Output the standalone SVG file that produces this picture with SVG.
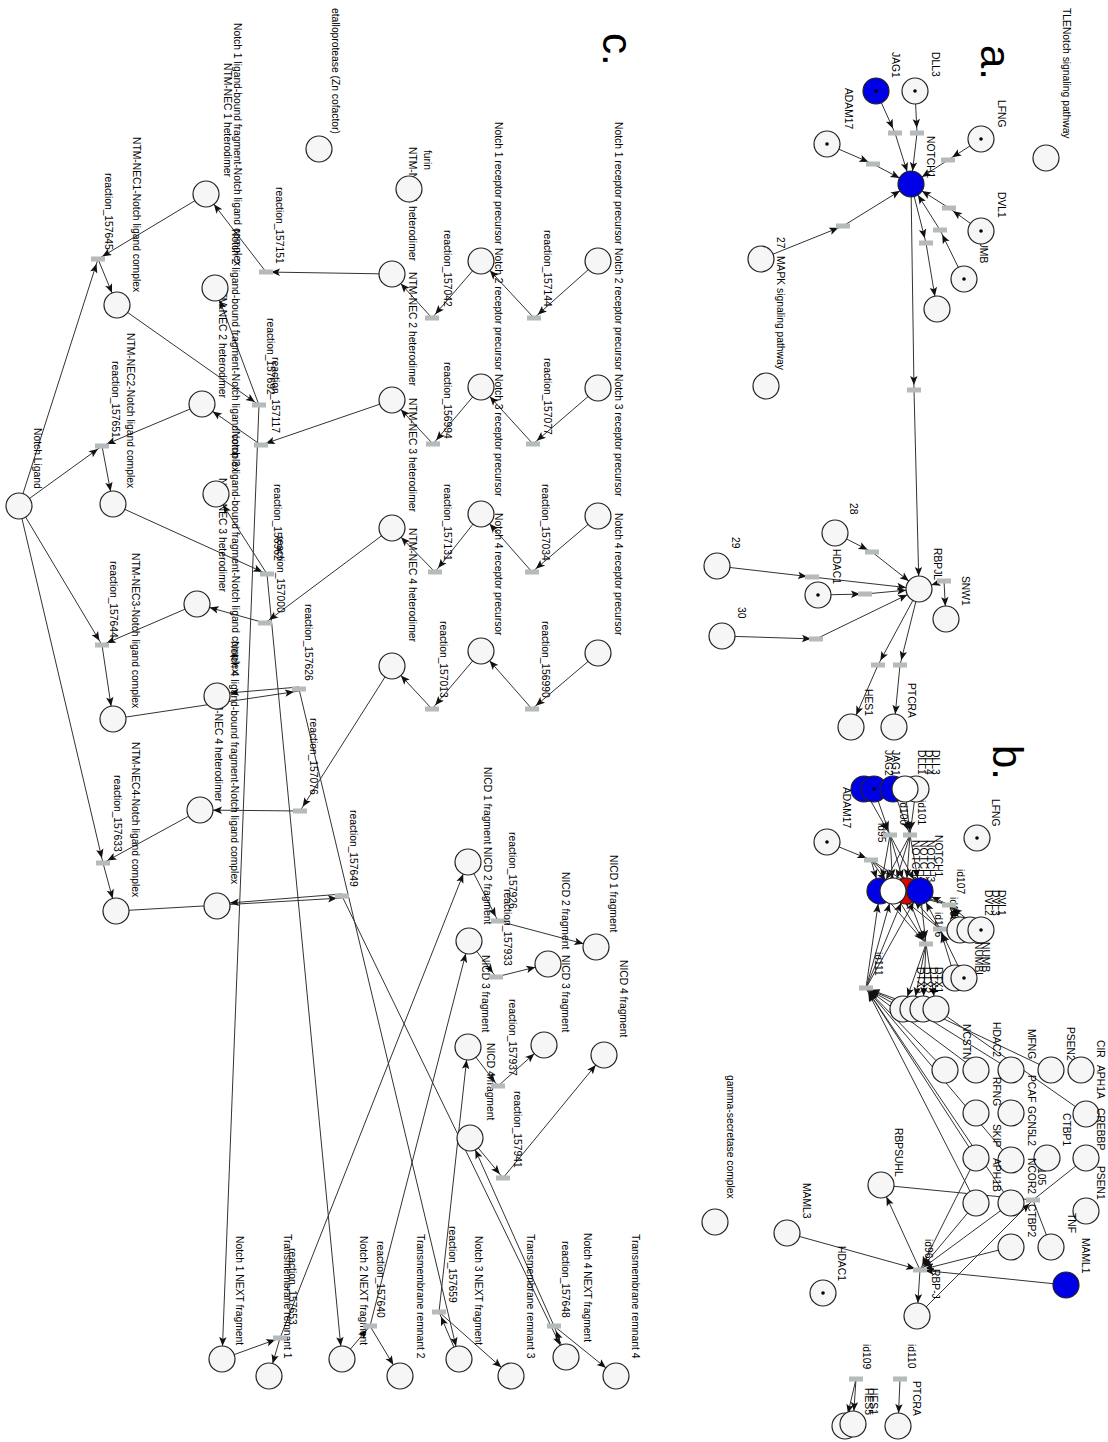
<svg xmlns="http://www.w3.org/2000/svg" width="1108" height="1442" viewBox="0 0 1108 1442">
<style>
.t{font-family:"Liberation Sans",Arial,sans-serif;font-size:10.3px;fill:#000}
.big{font-family:"Liberation Sans",Arial,sans-serif;font-size:42px;fill:#000}
.n{fill:#f6f6f6;stroke:#222;stroke-width:1.2}
.b{fill:#0000e6}
.r{fill:#e60000}
.w{fill:#fff}
.d{fill:#000}
.rx{fill:#b5baba}
#edges line{stroke:#333;stroke-width:1;fill:none}
</style>
<defs>
<marker id="ac" markerUnits="userSpaceOnUse" viewBox="0 0 30 10" markerWidth="30" markerHeight="10" refX="27" refY="5" orient="auto"><path d="M14,5 L5,1.3 L7,5 L5,8.7 z" fill="#111"/></marker>
<marker id="ar" markerUnits="userSpaceOnUse" viewBox="0 0 30 10" markerWidth="30" markerHeight="10" refX="19" refY="5" orient="auto"><path d="M14,5 L5,1.3 L7,5 L5,8.7 z" fill="#111"/></marker>
</defs>
<rect width="1108" height="1442" fill="#fff"/>
<g id="edges">
<!-- panel a -->
<line x1="876" y1="91" x2="895" y2="133" marker-end="url(#ar)"/>
<line x1="895" y1="133" x2="911" y2="184" marker-end="url(#ac)"/>
<line x1="915" y1="91" x2="917" y2="133" marker-end="url(#ar)"/>
<line x1="917" y1="133" x2="911" y2="184" marker-end="url(#ac)"/>
<line x1="981" y1="139" x2="948" y2="160" marker-end="url(#ar)"/>
<line x1="948" y1="160" x2="911" y2="184" marker-end="url(#ac)"/>
<line x1="827" y1="144" x2="873" y2="164" marker-end="url(#ar)"/>
<line x1="873" y1="164" x2="911" y2="184" marker-end="url(#ac)"/>
<line x1="981" y1="231" x2="949" y2="208" marker-end="url(#ar)"/>
<line x1="949" y1="208" x2="911" y2="184" marker-end="url(#ac)"/>
<line x1="964" y1="279" x2="940" y2="230" marker-end="url(#ar)"/>
<line x1="940" y1="230" x2="911" y2="184" marker-end="url(#ac)"/>
<line x1="911" y1="184" x2="926" y2="243" marker-end="url(#ar)"/>
<line x1="926" y1="243" x2="937" y2="309" marker-end="url(#ac)"/>
<line x1="761" y1="259" x2="843" y2="226" marker-end="url(#ar)"/>
<line x1="843" y1="226" x2="911" y2="184" marker-end="url(#ac)"/>
<line x1="911" y1="184" x2="914" y2="390" marker-end="url(#ar)"/>
<line x1="914" y1="390" x2="919" y2="589" marker-end="url(#ac)"/>
<line x1="835" y1="533" x2="872" y2="552" marker-end="url(#ar)"/>
<line x1="872" y1="552" x2="919" y2="589" marker-end="url(#ac)"/>
<line x1="717" y1="566" x2="812" y2="577" marker-end="url(#ar)"/>
<line x1="812" y1="577" x2="919" y2="589" marker-end="url(#ac)"/>
<line x1="818" y1="595" x2="865" y2="594" marker-end="url(#ar)"/>
<line x1="865" y1="594" x2="919" y2="589" marker-end="url(#ac)"/>
<line x1="722" y1="636" x2="816" y2="639" marker-end="url(#ar)"/>
<line x1="816" y1="639" x2="919" y2="589" marker-end="url(#ac)"/>
<line x1="944" y1="581" x2="919" y2="589" marker-end="url(#ac)"/>
<line x1="944" y1="581" x2="946" y2="619" marker-end="url(#ac)"/>
<line x1="919" y1="589" x2="878" y2="665" marker-end="url(#ar)"/>
<line x1="878" y1="665" x2="851" y2="727" marker-end="url(#ac)"/>
<line x1="919" y1="589" x2="900" y2="665" marker-end="url(#ar)"/>
<line x1="900" y1="665" x2="894" y2="727" marker-end="url(#ac)"/>
<!-- panel c precursors -->
<line x1="598" y1="261" x2="534" y2="318" marker-end="url(#ar)"/>
<line x1="534" y1="318" x2="481" y2="261" marker-end="url(#ac)"/>
<line x1="481" y1="261" x2="432" y2="318" marker-end="url(#ar)"/>
<line x1="432" y1="318" x2="392" y2="274" marker-end="url(#ac)"/>
<line x1="598" y1="388" x2="533" y2="444" marker-end="url(#ar)"/>
<line x1="533" y1="444" x2="481" y2="387" marker-end="url(#ac)"/>
<line x1="481" y1="387" x2="433" y2="444" marker-end="url(#ar)"/>
<line x1="433" y1="444" x2="392" y2="400" marker-end="url(#ac)"/>
<line x1="598" y1="516" x2="532" y2="572" marker-end="url(#ar)"/>
<line x1="532" y1="572" x2="481" y2="514" marker-end="url(#ac)"/>
<line x1="481" y1="514" x2="435" y2="572" marker-end="url(#ar)"/>
<line x1="435" y1="572" x2="392" y2="528" marker-end="url(#ac)"/>
<line x1="598" y1="653" x2="532" y2="709" marker-end="url(#ar)"/>
<line x1="532" y1="709" x2="481" y2="651" marker-end="url(#ac)"/>
<line x1="481" y1="651" x2="432" y2="709" marker-end="url(#ar)"/>
<line x1="432" y1="709" x2="392" y2="666" marker-end="url(#ac)"/>
<!-- panel c left -->
<line x1="392" y1="274" x2="266" y2="272" marker-end="url(#ar)"/>
<line x1="266" y1="272" x2="206" y2="194" marker-end="url(#ac)"/>
<line x1="206" y1="194" x2="98" y2="259" marker-end="url(#ar)"/>
<line x1="19" y1="506" x2="98" y2="259" marker-end="url(#ar)"/>
<line x1="98" y1="259" x2="117" y2="305" marker-end="url(#ac)"/>
<line x1="117" y1="305" x2="259" y2="405" marker-end="url(#ar)"/>
<line x1="259" y1="405" x2="215" y2="288" marker-end="url(#ac)"/>
<line x1="259" y1="405" x2="222" y2="1359" marker-end="url(#ac)"/>
<line x1="392" y1="400" x2="261" y2="445" marker-end="url(#ar)"/>
<line x1="261" y1="445" x2="202" y2="404" marker-end="url(#ac)"/>
<line x1="202" y1="404" x2="102" y2="446" marker-end="url(#ar)"/>
<line x1="19" y1="506" x2="102" y2="446" marker-end="url(#ar)"/>
<line x1="102" y1="446" x2="113" y2="504" marker-end="url(#ac)"/>
<line x1="113" y1="504" x2="267" y2="574" marker-end="url(#ar)"/>
<line x1="267" y1="574" x2="216" y2="494" marker-end="url(#ac)"/>
<line x1="267" y1="574" x2="342" y2="1359" marker-end="url(#ac)"/>
<line x1="392" y1="528" x2="265" y2="623" marker-end="url(#ar)"/>
<line x1="265" y1="623" x2="197" y2="604" marker-end="url(#ac)"/>
<line x1="197" y1="604" x2="102" y2="645" marker-end="url(#ar)"/>
<line x1="19" y1="506" x2="102" y2="645" marker-end="url(#ar)"/>
<line x1="102" y1="645" x2="113" y2="719" marker-end="url(#ac)"/>
<line x1="113" y1="719" x2="299" y2="691" marker-end="url(#ar)"/>
<line x1="299" y1="687" x2="217" y2="694" marker-end="url(#ac)"/>
<line x1="299" y1="689" x2="459" y2="1359" marker-end="url(#ac)"/>
<line x1="392" y1="666" x2="300" y2="811" marker-end="url(#ar)"/>
<line x1="300" y1="811" x2="200" y2="810" marker-end="url(#ac)"/>
<line x1="200" y1="810" x2="103" y2="863" marker-end="url(#ar)"/>
<line x1="19" y1="506" x2="103" y2="863" marker-end="url(#ar)"/>
<line x1="103" y1="863" x2="116" y2="911" marker-end="url(#ac)"/>
<line x1="116" y1="911" x2="342" y2="898" marker-end="url(#ar)"/>
<line x1="342" y1="894" x2="217" y2="904" marker-end="url(#ac)"/>
<line x1="342" y1="896" x2="566" y2="1357" marker-end="url(#ac)"/>
<!-- panel c bottom -->
<line x1="222" y1="1359" x2="280" y2="1338" marker-end="url(#ar)"/>
<line x1="280" y1="1338" x2="269" y2="1376" marker-end="url(#ac)"/>
<line x1="280" y1="1338" x2="468" y2="862" marker-end="url(#ac)"/>
<line x1="342" y1="1359" x2="370" y2="1326" marker-end="url(#ar)"/>
<line x1="370" y1="1326" x2="400" y2="1376" marker-end="url(#ac)"/>
<line x1="370" y1="1326" x2="469" y2="941" marker-end="url(#ac)"/>
<line x1="459" y1="1359" x2="439" y2="1312" marker-end="url(#ar)"/>
<line x1="439" y1="1312" x2="511" y2="1376" marker-end="url(#ac)"/>
<line x1="439" y1="1312" x2="468" y2="1047" marker-end="url(#ac)"/>
<line x1="566" y1="1357" x2="554" y2="1326" marker-end="url(#ar)"/>
<line x1="554" y1="1326" x2="616" y2="1376" marker-end="url(#ac)"/>
<line x1="554" y1="1326" x2="470" y2="1138" marker-end="url(#ac)"/>
<line x1="468" y1="862" x2="498" y2="921" marker-end="url(#ar)"/>
<line x1="498" y1="921" x2="596" y2="947" marker-end="url(#ac)"/>
<line x1="469" y1="941" x2="496" y2="977" marker-end="url(#ar)"/>
<line x1="496" y1="977" x2="548" y2="964" marker-end="url(#ac)"/>
<line x1="468" y1="1047" x2="498" y2="1086" marker-end="url(#ar)"/>
<line x1="498" y1="1086" x2="544" y2="1045" marker-end="url(#ac)"/>
<line x1="470" y1="1138" x2="503" y2="1178" marker-end="url(#ar)"/>
<line x1="503" y1="1178" x2="604" y2="1055" marker-end="url(#ac)"/>
<!-- panel b -->
<line x1="864" y1="789" x2="890" y2="835" marker-end="url(#ar)"/>
<line x1="874" y1="789" x2="890" y2="835" marker-end="url(#ar)"/>
<line x1="893" y1="789" x2="910" y2="835" marker-end="url(#ar)"/>
<line x1="905" y1="789" x2="910" y2="835" marker-end="url(#ar)"/>
<line x1="916" y1="789" x2="910" y2="835" marker-end="url(#ar)"/>
<line x1="890" y1="835" x2="880" y2="891" marker-end="url(#ac)"/>
<line x1="890" y1="835" x2="893" y2="891" marker-end="url(#ac)"/>
<line x1="890" y1="835" x2="906" y2="891" marker-end="url(#ac)"/>
<line x1="890" y1="835" x2="920" y2="891" marker-end="url(#ac)"/>
<line x1="910" y1="835" x2="880" y2="891" marker-end="url(#ac)"/>
<line x1="910" y1="835" x2="893" y2="891" marker-end="url(#ac)"/>
<line x1="910" y1="835" x2="906" y2="891" marker-end="url(#ac)"/>
<line x1="910" y1="835" x2="920" y2="891" marker-end="url(#ac)"/>
<line x1="827" y1="842" x2="871" y2="860" marker-end="url(#ar)"/>
<line x1="871" y1="860" x2="880" y2="891" marker-end="url(#ac)"/>
<line x1="871" y1="860" x2="893" y2="891" marker-end="url(#ac)"/>
<line x1="871" y1="860" x2="906" y2="891" marker-end="url(#ac)"/>
<line x1="871" y1="860" x2="920" y2="891" marker-end="url(#ac)"/>
<line x1="960" y1="930" x2="949" y2="905" marker-end="url(#ar)"/>
<line x1="970" y1="930" x2="949" y2="905" marker-end="url(#ar)"/>
<line x1="981" y1="930" x2="949" y2="905" marker-end="url(#ar)"/>
<line x1="949" y1="905" x2="920" y2="891" marker-end="url(#ac)"/>
<line x1="949" y1="905" x2="906" y2="891" marker-end="url(#ac)"/>
<line x1="949" y1="905" x2="893" y2="891" marker-end="url(#ac)"/>
<line x1="955" y1="978" x2="940" y2="929" marker-end="url(#ar)"/>
<line x1="964" y1="978" x2="940" y2="929" marker-end="url(#ar)"/>
<line x1="940" y1="929" x2="920" y2="891" marker-end="url(#ac)"/>
<line x1="940" y1="929" x2="906" y2="891" marker-end="url(#ac)"/>
<line x1="940" y1="929" x2="893" y2="891" marker-end="url(#ac)"/>
<line x1="880" y1="891" x2="926" y2="944" marker-end="url(#ar)"/>
<line x1="893" y1="891" x2="926" y2="944" marker-end="url(#ar)"/>
<line x1="906" y1="891" x2="926" y2="944" marker-end="url(#ar)"/>
<line x1="920" y1="891" x2="926" y2="944" marker-end="url(#ar)"/>
<line x1="926" y1="944" x2="903" y2="1009" marker-end="url(#ac)"/>
<line x1="926" y1="944" x2="913" y2="1009" marker-end="url(#ac)"/>
<line x1="926" y1="944" x2="923" y2="1009" marker-end="url(#ac)"/>
<line x1="926" y1="944" x2="936" y2="1009" marker-end="url(#ac)"/>
<line x1="866" y1="988" x2="880" y2="891" marker-end="url(#ac)"/>
<line x1="866" y1="988" x2="893" y2="891" marker-end="url(#ac)"/>
<line x1="866" y1="988" x2="906" y2="891" marker-end="url(#ac)"/>
<line x1="866" y1="988" x2="920" y2="891" marker-end="url(#ac)"/>
<line x1="903" y1="1009" x2="866" y2="988" marker-end="url(#ar)"/>
<line x1="913" y1="1009" x2="866" y2="988" marker-end="url(#ar)"/>
<line x1="923" y1="1009" x2="866" y2="988" marker-end="url(#ar)"/>
<line x1="945" y1="1070" x2="866" y2="988" marker-end="url(#ar)"/>
<line x1="976" y1="1158" x2="866" y2="988" marker-end="url(#ar)"/>
<line x1="976" y1="1203" x2="866" y2="988" marker-end="url(#ar)"/>
<line x1="1011" y1="1203" x2="866" y2="988" marker-end="url(#ar)"/>
<line x1="1011" y1="1160" x2="866" y2="988" marker-end="url(#ar)"/>
<line x1="976" y1="1070" x2="866" y2="988" marker-end="url(#ar)"/>
<line x1="936" y1="1009" x2="1086" y2="1114"/>
<line x1="923" y1="1009" x2="1051" y2="1070"/>
<line x1="913" y1="1009" x2="1011" y2="1070"/>
<line x1="787" y1="1233" x2="920" y2="1270" marker-end="url(#ar)"/>
<line x1="1066" y1="1285" x2="920" y2="1270" marker-end="url(#ar)"/>
<line x1="976" y1="1203" x2="920" y2="1270" marker-end="url(#ar)"/>
<line x1="1011" y1="1203" x2="920" y2="1270" marker-end="url(#ar)"/>
<line x1="976" y1="1158" x2="920" y2="1270" marker-end="url(#ar)"/>
<line x1="1011" y1="1247" x2="920" y2="1270" marker-end="url(#ar)"/>
<line x1="920" y1="1270" x2="917" y2="1316" marker-end="url(#ac)"/>
<line x1="920" y1="1270" x2="881" y2="1185" marker-end="url(#ac)"/>
<line x1="881" y1="1185" x2="1033" y2="1200"/>
<line x1="917" y1="1316" x2="1033" y2="1200" marker-end="url(#ar)"/>
<line x1="1086" y1="1158" x2="1033" y2="1200"/>
<line x1="1033" y1="1200" x2="1051" y2="1247"/>
<line x1="900" y1="1379" x2="898" y2="1426" marker-end="url(#ac)"/>
<line x1="856" y1="1379" x2="845" y2="1426" marker-end="url(#ac)"/>
<line x1="856" y1="1379" x2="853" y2="1424" marker-end="url(#ac)"/>
</g>
<g id="titles">
<text class="big" x="981" y="45" transform="rotate(90 981 45)">a.</text>
<text class="big" x="993" y="745" transform="rotate(90 993 745)">b.</text>
<text class="big" x="603" y="33" transform="rotate(90 603 33)">c.</text>
</g>
<!-- panel a nodes -->
<g id="a-tle"><circle class="n" cx="1046" cy="158" r="13"/><text class="t" x="1063" y="8" transform="rotate(90 1063 8)">TLENotch signaling pathway</text></g>
<g id="a-jag1"><circle class="n b" cx="876" cy="91" r="13"/><circle class="d" cx="876" cy="91" r="1.8"/><text class="t" x="892" y="52" transform="rotate(90 892 52)">JAG1</text></g>
<g id="a-dll3"><circle class="n" cx="915" cy="91" r="13"/><circle class="d" cx="915" cy="91" r="1.8"/><text class="t" x="932" y="52" transform="rotate(90 932 52)">DLL3</text></g>
<g id="a-lfng"><circle class="n" cx="981" cy="139" r="13"/><circle class="d" cx="981" cy="139" r="1.8"/><text class="t" x="998" y="100" transform="rotate(90 998 100)">LFNG</text></g>
<g id="a-adam17"><circle class="n" cx="827" cy="144" r="13"/><circle class="d" cx="827" cy="144" r="1.8"/><text class="t" x="845" y="88" transform="rotate(90 845 88)">ADAM17</text></g>
<g id="a-notch1"><circle class="n b" cx="911" cy="184" r="13"/><text class="t" x="927" y="136" transform="rotate(90 927 136)">NOTCH1</text></g>
<g id="a-numb"><circle class="n" cx="964" cy="279" r="13"/><circle class="d" cx="964" cy="279" r="1.8"/><text class="t" x="980" y="233" transform="rotate(90 980 233)">NUMB</text></g>
<g id="a-dvl1"><circle class="n" cx="981" cy="231" r="13"/><circle class="d" cx="981" cy="231" r="1.8"/><text class="t" x="998" y="192" transform="rotate(90 998 192)">DVL1</text></g>
<g id="a-out"><circle class="n" cx="937" cy="309" r="13"/></g>
<g id="a-27"><circle class="n" cx="761" cy="259" r="13"/><text class="t" x="777" y="237" transform="rotate(90 777 237)">27</text></g>
<g id="a-mapk"><circle class="n" cx="766" cy="386" r="13"/><text class="t" x="777" y="256" transform="rotate(90 777 256)">MAPK signaling pathway</text></g>
<g id="a-28"><circle class="n" cx="835" cy="533" r="13"/><text class="t" x="850" y="503" transform="rotate(90 850 503)">28</text></g>
<g id="a-hdac1"><circle class="n" cx="818" cy="595" r="13"/><circle class="d" cx="818" cy="595" r="1.8"/><text class="t" x="833" y="549" transform="rotate(90 833 549)">HDAC1</text></g>
<g id="a-29"><circle class="n" cx="717" cy="566" r="13"/><text class="t" x="732" y="537" transform="rotate(90 732 537)">29</text></g>
<g id="a-30"><circle class="n" cx="722" cy="636" r="13"/><text class="t" x="738" y="607" transform="rotate(90 738 607)">30</text></g>
<g id="a-rbpjl"><circle class="n" cx="919" cy="589" r="13"/><text class="t" x="934" y="548" transform="rotate(90 934 548)">RBPJL</text></g>
<g id="a-snw1"><circle class="n" cx="946" cy="619" r="13"/><text class="t" x="962" y="576" transform="rotate(90 962 576)">SNW1</text></g>
<g id="a-hes1"><circle class="n" cx="851" cy="727" r="13"/><text class="t" x="865" y="689" transform="rotate(90 865 689)">HES1</text></g>
<g id="a-ptcra"><circle class="n" cx="894" cy="727" r="13"/><text class="t" x="908" y="683" transform="rotate(90 908 683)">PTCRA</text></g>
<g id="a-reactions">
<rect class="rx" x="888" y="130.5" width="14" height="5"/><rect class="rx" x="910" y="130.5" width="14" height="5"/><rect class="rx" x="941" y="157.5" width="14" height="5"/><rect class="rx" x="866" y="161.5" width="14" height="5"/><rect class="rx" x="942" y="205.5" width="14" height="5"/><rect class="rx" x="933" y="227.5" width="14" height="5"/><rect class="rx" x="919" y="240.5" width="14" height="5"/><rect class="rx" x="836" y="223.5" width="14" height="5"/><rect class="rx" x="907" y="387.5" width="14" height="5"/><rect class="rx" x="865" y="549.5" width="14" height="5"/><rect class="rx" x="805" y="574.5" width="14" height="5"/><rect class="rx" x="858" y="591.5" width="14" height="5"/><rect class="rx" x="809" y="636.5" width="14" height="5"/><rect class="rx" x="937" y="578.5" width="14" height="5"/><rect class="rx" x="871" y="662.5" width="14" height="5"/><rect class="rx" x="893" y="662.5" width="14" height="5"/>
</g>
<!-- panel c nodes -->
<g id="c-p1a"><circle class="n" cx="598" cy="261" r="13"/><text class="t" x="615" y="122" transform="rotate(90 615 122)">Notch 1 receptor precursor</text></g>
<g id="c-p2a"><circle class="n" cx="598" cy="388" r="13"/><text class="t" x="615" y="248" transform="rotate(90 615 248)">Notch 2 receptor precursor</text></g>
<g id="c-p3a"><circle class="n" cx="598" cy="516" r="13"/><text class="t" x="615" y="374" transform="rotate(90 615 374)">Notch 3 receptor precursor</text></g>
<g id="c-p4a"><circle class="n" cx="598" cy="653" r="13"/><text class="t" x="615" y="513" transform="rotate(90 615 513)">Notch 4 receptor precursor</text></g>
<g id="c-p1b"><circle class="n" cx="481" cy="261" r="13"/><text class="t" x="495" y="122" transform="rotate(90 495 122)">Notch 1 receptor precursor</text></g>
<g id="c-p2b"><circle class="n" cx="481" cy="387" r="13"/><text class="t" x="495" y="248" transform="rotate(90 495 248)">Notch 2 receptor precursor</text></g>
<g id="c-p3b"><circle class="n" cx="481" cy="514" r="13"/><text class="t" x="495" y="374" transform="rotate(90 495 374)">Notch 3 receptor precursor</text></g>
<g id="c-p4b"><circle class="n" cx="481" cy="651" r="13"/><text class="t" x="495" y="513" transform="rotate(90 495 513)">Notch 4 receptor precursor</text></g>
<g id="c-h1"><circle class="n" cx="392" cy="274" r="13"/><text class="t" x="409" y="147" transform="rotate(90 409 147)">NTM-NEC 1 heterodimer</text></g>
<g id="c-h2"><circle class="n" cx="392" cy="400" r="13"/><text class="t" x="409" y="272" transform="rotate(90 409 272)">NTM-NEC 2 heterodimer</text></g>
<g id="c-h3"><circle class="n" cx="392" cy="528" r="13"/><text class="t" x="409" y="398" transform="rotate(90 409 398)">NTM-NEC 3 heterodimer</text></g>
<g id="c-h4"><circle class="n" cx="392" cy="666" r="13"/><text class="t" x="409" y="528" transform="rotate(90 409 528)">NTM-NEC 4 heterodimer</text></g>
<g id="c-furin"><circle class="n" cx="409" cy="189" r="13"/><text class="t" x="424" y="150" transform="rotate(90 424 150)">furin</text></g>
<g id="c-metallo"><circle class="n" cx="319" cy="149" r="13"/><text class="t" x="332" y="8" transform="rotate(90 332 8)">etalloprotease (Zn cofactor)</text></g>
<g id="c-nn1"><circle class="n" cx="206" cy="194" r="13"/><text class="t" x="224" y="63" transform="rotate(90 224 63)">NTM-NEC 1 heterodimer</text></g>
<g id="c-nn2"><circle class="n" cx="202" cy="404" r="13"/><text class="t" x="219" y="284" transform="rotate(90 219 284)">NTM-NEC 2 heterodimer</text></g>
<g id="c-nn3"><circle class="n" cx="197" cy="604" r="13"/><text class="t" x="219" y="478" transform="rotate(90 219 478)">NTM-NEC 3 heterodimer</text></g>
<g id="c-nn4"><circle class="n" cx="200" cy="810" r="13"/><text class="t" x="215" y="688" transform="rotate(90 215 688)">NTM-NEC 4 heterodimer</text></g>
<g id="c-lb1"><circle class="n" cx="215" cy="288" r="13"/><text class="t" x="234" y="23" transform="rotate(90 234 23)">Notch 1 ligand-bound fragment-Notch ligand complex</text></g>
<g id="c-lb2"><circle class="n" cx="216" cy="494" r="13"/><text class="t" x="232" y="229" transform="rotate(90 232 229)">Notch 2 ligand-bound fragment-Notch ligand complex</text></g>
<g id="c-lb3"><circle class="n" cx="217" cy="696" r="13"/><text class="t" x="232" y="431" transform="rotate(90 232 431)">Notch 3 ligand-bound fragment-Notch ligand complex</text></g>
<g id="c-lb4"><circle class="n" cx="217" cy="906" r="13"/><text class="t" x="231" y="641" transform="rotate(90 231 641)">Notch 4 ligand-bound fragment-Notch ligand complex</text></g>
<g id="c-nc1"><circle class="n" cx="117" cy="305" r="13"/><text class="t" x="133" y="137" transform="rotate(90 133 137)">NTM-NEC1-Notch ligand complex</text></g>
<g id="c-nc2"><circle class="n" cx="113" cy="504" r="13"/><text class="t" x="127" y="333" transform="rotate(90 127 333)">NTM-NEC2-Notch ligand complex</text></g>
<g id="c-nc3"><circle class="n" cx="113" cy="719" r="13"/><text class="t" x="132" y="553" transform="rotate(90 132 553)">NTM-NEC3-Notch ligand complex</text></g>
<g id="c-nc4"><circle class="n" cx="116" cy="911" r="13"/><text class="t" x="132" y="742" transform="rotate(90 132 742)">NTM-NEC4-Notch ligand complex</text></g>
<g id="c-ligand"><circle class="n" cx="19" cy="506" r="13"/><text class="t" x="34" y="428" transform="rotate(90 34 428)">Notch Ligand</text></g>
<g id="c-next1"><circle class="n" cx="222" cy="1359" r="13"/><text class="t" x="236" y="1236" transform="rotate(90 236 1236)">Notch 1 NEXT fragment</text></g>
<g id="c-tm1"><circle class="n" cx="269" cy="1376" r="13"/><text class="t" x="284" y="1234" transform="rotate(90 284 1234)">Transmembrane remnant 1</text></g>
<g id="c-next2"><circle class="n" cx="342" cy="1359" r="13"/><text class="t" x="360" y="1236" transform="rotate(90 360 1236)">Notch 2 NEXT fragment</text></g>
<g id="c-tm2"><circle class="n" cx="400" cy="1376" r="13"/><text class="t" x="417" y="1234" transform="rotate(90 417 1234)">Transmembrane remnant 2</text></g>
<g id="c-next3"><circle class="n" cx="459" cy="1359" r="13"/><text class="t" x="475" y="1236" transform="rotate(90 475 1236)">Notch 3 NEXT fragment</text></g>
<g id="c-tm3"><circle class="n" cx="511" cy="1376" r="13"/><text class="t" x="527" y="1234" transform="rotate(90 527 1234)">Transmembrane remnant 3</text></g>
<g id="c-next4"><circle class="n" cx="566" cy="1357" r="13"/><text class="t" x="584" y="1233" transform="rotate(90 584 1233)">Notch 4 NEXT fragment</text></g>
<g id="c-tm4"><circle class="n" cx="616" cy="1376" r="13"/><text class="t" x="632" y="1234" transform="rotate(90 632 1234)">Transmembrane remnant 4</text></g>
<g id="c-gamma"><circle class="n" cx="715" cy="1222" r="13"/><text class="t" x="727" y="1075" transform="rotate(90 727 1075)">gamma-secretase complex</text></g>
<g id="c-nicd1a"><circle class="n" cx="468" cy="862" r="13"/><text class="t" x="484" y="767" transform="rotate(90 484 767)">NICD 1 fragment</text></g>
<g id="c-nicd2a"><circle class="n" cx="469" cy="941" r="13"/><text class="t" x="484" y="847" transform="rotate(90 484 847)">NICD 2 fragment</text></g>
<g id="c-nicd3a"><circle class="n" cx="468" cy="1047" r="13"/><text class="t" x="482" y="955" transform="rotate(90 482 955)">NICD 3 fragment</text></g>
<g id="c-nicd4a"><circle class="n" cx="470" cy="1138" r="13"/><text class="t" x="487" y="1043" transform="rotate(90 487 1043)">NICD 4 fragment</text></g>
<g id="c-nicd1b"><circle class="n" cx="596" cy="947" r="13"/><text class="t" x="610" y="855" transform="rotate(90 610 855)">NICD 1 fragment</text></g>
<g id="c-nicd2b"><circle class="n" cx="548" cy="964" r="13"/><text class="t" x="562" y="872" transform="rotate(90 562 872)">NICD 2 fragment</text></g>
<g id="c-nicd3b"><circle class="n" cx="544" cy="1045" r="13"/><text class="t" x="562" y="955" transform="rotate(90 562 955)">NICD 3 fragment</text></g>
<g id="c-nicd4b"><circle class="n" cx="604" cy="1055" r="13"/><text class="t" x="620" y="960" transform="rotate(90 620 960)">NICD 4 fragment</text></g>
<g id="c-reactions">
<g id="r157144"><rect class="rx" x="527" y="315.5" width="14" height="5"/><text class="t" x="544" y="230" transform="rotate(90 544 230)">reaction_157144</text></g>
<g id="r157042"><rect class="rx" x="425" y="315.5" width="14" height="5"/><text class="t" x="444" y="230" transform="rotate(90 444 230)">reaction_157042</text></g>
<g id="r157077"><rect class="rx" x="526" y="441.5" width="14" height="5"/><text class="t" x="544" y="358" transform="rotate(90 544 358)">reaction_157077</text></g>
<g id="r156994"><rect class="rx" x="426" y="441.5" width="14" height="5"/><text class="t" x="444" y="362" transform="rotate(90 444 362)">reaction_156994</text></g>
<g id="r157034"><rect class="rx" x="525" y="569.5" width="14" height="5"/><text class="t" x="542" y="484" transform="rotate(90 542 484)">reaction_157034</text></g>
<g id="r157131"><rect class="rx" x="428" y="569.5" width="14" height="5"/><text class="t" x="444" y="484" transform="rotate(90 444 484)">reaction_157131</text></g>
<g id="r156990"><rect class="rx" x="525" y="706.5" width="14" height="5"/><text class="t" x="542" y="621" transform="rotate(90 542 621)">reaction_156990</text></g>
<g id="r157013"><rect class="rx" x="425" y="706.5" width="14" height="5"/><text class="t" x="440" y="621" transform="rotate(90 440 621)">reaction_157013</text></g>
<g id="r157151"><rect class="rx" x="259" y="269.5" width="14" height="5"/><text class="t" x="276" y="187" transform="rotate(90 276 187)">reaction_157151</text></g>
<g id="r157645"><rect class="rx" x="91" y="256.5" width="14" height="5"/><text class="t" x="105" y="173" transform="rotate(90 105 173)">reaction_157645</text></g>
<g id="r157692"><rect class="rx" x="252" y="402.5" width="14" height="5"/><text class="t" x="267" y="318" transform="rotate(90 267 318)">reaction_157692</text></g>
<g id="r157117"><rect class="rx" x="254" y="442.5" width="14" height="5"/><text class="t" x="272" y="357" transform="rotate(90 272 357)">reaction_157117</text></g>
<g id="r157651"><rect class="rx" x="95" y="443.5" width="14" height="5"/><text class="t" x="112" y="361" transform="rotate(90 112 361)">reaction_157651</text></g>
<g id="r156962"><rect class="rx" x="260" y="571.5" width="14" height="5"/><text class="t" x="274" y="484" transform="rotate(90 274 484)">reaction_156962</text></g>
<g id="r157000"><rect class="rx" x="258" y="620.5" width="14" height="5"/><text class="t" x="277" y="536" transform="rotate(90 277 536)">reaction_157000</text></g>
<g id="r157644"><rect class="rx" x="95" y="642.5" width="14" height="5"/><text class="t" x="110" y="561" transform="rotate(90 110 561)">reaction_157644</text></g>
<g id="r157626"><rect class="rx" x="292" y="686.5" width="14" height="5"/><text class="t" x="305" y="604" transform="rotate(90 305 604)">reaction_157626</text></g>
<g id="r157076"><rect class="rx" x="293" y="808.5" width="14" height="5"/><text class="t" x="310" y="718" transform="rotate(90 310 718)">reaction_157076</text></g>
<g id="r157633"><rect class="rx" x="96" y="860.5" width="14" height="5"/><text class="t" x="114" y="775" transform="rotate(90 114 775)">reaction_157633</text></g>
<g id="r157649"><rect class="rx" x="335" y="893.5" width="14" height="5"/><text class="t" x="350" y="810" transform="rotate(90 350 810)">reaction_157649</text></g>
<g id="r157653"><rect class="rx" x="273" y="1335.5" width="14" height="5"/><text class="t" x="289" y="1248" transform="rotate(90 289 1248)">reaction_157653</text></g>
<g id="r157640"><rect class="rx" x="363" y="1323.5" width="14" height="5"/><text class="t" x="377" y="1241" transform="rotate(90 377 1241)">reaction_157640</text></g>
<g id="r157659"><rect class="rx" x="432" y="1309.5" width="14" height="5"/><text class="t" x="449" y="1226" transform="rotate(90 449 1226)">reaction_157659</text></g>
<g id="r157648"><rect class="rx" x="547" y="1323.5" width="14" height="5"/><text class="t" x="562" y="1241" transform="rotate(90 562 1241)">reaction_157648</text></g>
<g id="r157926"><rect class="rx" x="491" y="918.5" width="14" height="5"/><text class="t" x="509" y="832" transform="rotate(90 509 832)">reaction_157926</text></g>
<g id="r157933"><rect class="rx" x="489" y="974.5" width="14" height="5"/><text class="t" x="504" y="889" transform="rotate(90 504 889)">reaction_157933</text></g>
<g id="r157937"><rect class="rx" x="491" y="1083.5" width="14" height="5"/><text class="t" x="509" y="999" transform="rotate(90 509 999)">reaction_157937</text></g>
<g id="r157941"><rect class="rx" x="496" y="1175.5" width="14" height="5"/><text class="t" x="514" y="1091" transform="rotate(90 514 1091)">reaction_157941</text></g>
</g>
<!-- panel b nodes -->
<g id="b-labels-ids">
<text class="t" x="918" y="800" transform="rotate(90 918 800)">id101</text>
<text class="t" x="900" y="800" transform="rotate(90 900 800)">id100</text>
<text class="t" x="878" y="823" transform="rotate(90 878 823)">id95</text>
<text class="t" x="957" y="869" transform="rotate(90 957 869)">id107</text>
<text class="t" x="950" y="897" transform="rotate(90 950 897)">id108</text>
<text class="t" x="935" y="912" transform="rotate(90 935 912)">id106</text>
<text class="t" x="875" y="952" transform="rotate(90 875 952)">id111</text>
<text class="t" x="1038" y="1160" transform="rotate(90 1038 1160)">id105</text>
<text class="t" x="925" y="1239" transform="rotate(90 925 1239)">id96</text>
<text class="t" x="908" y="1344" transform="rotate(90 908 1344)">id110</text>
<text class="t" x="863" y="1344" transform="rotate(90 863 1344)">id109</text>
</g>
<g id="b-reactions">
<rect class="rx" x="883" y="832.5" width="14" height="5"/><rect class="rx" x="903" y="832.5" width="14" height="5"/><rect class="rx" x="864" y="857.5" width="14" height="5"/><rect class="rx" x="942" y="902.5" width="14" height="5"/><rect class="rx" x="933" y="926.5" width="14" height="5"/><rect class="rx" x="919" y="941.5" width="14" height="5"/><rect class="rx" x="859" y="985.5" width="14" height="5"/><rect class="rx" x="1026" y="1197.5" width="14" height="5"/><rect class="rx" x="913" y="1267.5" width="14" height="5"/><rect class="rx" x="893" y="1376.5" width="14" height="5"/><rect class="rx" x="849" y="1376.5" width="14" height="5"/>
</g>
<g id="b-lfng"><circle class="n" cx="977" cy="838" r="13"/><circle class="d" cx="977" cy="838" r="1.8"/><text class="t" x="992" y="799" transform="rotate(90 992 799)">LFNG</text></g>
<g id="b-ligands">
<circle class="n b" cx="864" cy="789" r="13"/><circle class="n b" cx="874" cy="789" r="13"/><circle class="d" cx="874" cy="789" r="1.8"/>
<circle class="n b" cx="893" cy="789" r="13"/><circle class="n" cx="916" cy="789" r="13"/><circle class="n w" cx="905" cy="789" r="13"/>
<text class="t" x="932" y="750" transform="rotate(90 932 750)">DLL3</text><text class="t" x="925" y="750" transform="rotate(90 925 750)">DLL4</text><text class="t" x="918" y="750" transform="rotate(90 918 750)">DLL1</text><text class="t" x="892" y="750" transform="rotate(90 892 750)">JAG1</text><text class="t" x="885" y="750" transform="rotate(90 885 750)">JAG2</text>
</g>
<g id="b-adam17"><circle class="n" cx="827" cy="842" r="13"/><circle class="d" cx="827" cy="842" r="1.8"/><text class="t" x="843" y="787" transform="rotate(90 843 787)">ADAM17</text></g>
<g id="b-notch">
<text class="t" x="935" y="835" transform="rotate(90 935 835)">NOTCH1</text><text class="t" x="927" y="840" transform="rotate(90 927 840)">NOTCH3</text><text class="t" x="920" y="840" transform="rotate(90 920 840)">NOTCH2</text><text class="t" x="912" y="840" transform="rotate(90 912 840)">NOTCH4</text>
<circle class="n b" cx="880" cy="891" r="13"/><circle class="n r" cx="906" cy="891" r="13"/><circle class="n w" cx="893" cy="891" r="13"/><circle class="n b" cx="920" cy="891" r="13"/>
</g>
<g id="b-dvl">
<circle class="n" cx="960" cy="930" r="13"/><circle class="n" cx="970" cy="930" r="13"/><circle class="n" cx="981" cy="930" r="13"/><circle class="d" cx="981" cy="930" r="1.8"/>
<text class="t" x="998" y="890" transform="rotate(90 998 890)">DVL1</text><text class="t" x="992" y="890" transform="rotate(90 992 890)">DVL3</text><text class="t" x="985" y="890" transform="rotate(90 985 890)">DVL2</text>
</g>
<g id="b-numb">
<text class="t" x="982" y="942" transform="rotate(90 982 942)">NUMB</text><text class="t" x="975" y="942" transform="rotate(90 975 942)">NUMBL</text>
<circle class="n" cx="955" cy="978" r="13"/><circle class="n" cx="964" cy="978" r="13"/><circle class="d" cx="964" cy="978" r="1.8"/>
</g>
<g id="b-dtx">
<text class="t" x="935" y="967" transform="rotate(90 935 967)">DTX1</text><text class="t" x="930" y="967" transform="rotate(90 930 967)">DTX4</text><text class="t" x="923" y="967" transform="rotate(90 923 967)">DTX2</text><text class="t" x="917" y="967" transform="rotate(90 917 967)">DTX3</text>
<circle class="n" cx="903" cy="1009" r="13"/><circle class="n" cx="913" cy="1009" r="13"/><circle class="n" cx="923" cy="1009" r="13"/><circle class="n" cx="936" cy="1009" r="13"/>
</g>
<g id="b-ncstn"><circle class="n" cx="945" cy="1070" r="13"/><text class="t" x="963" y="1024" transform="rotate(90 963 1024)">NCSTN</text></g>
<g id="b-hdac2"><circle class="n" cx="976" cy="1070" r="13"/><text class="t" x="993" y="1022" transform="rotate(90 993 1022)">HDAC2</text></g>
<g id="b-mfng"><circle class="n" cx="1011" cy="1070" r="13"/><text class="t" x="1028" y="1029" transform="rotate(90 1028 1029)">MFNG</text></g>
<g id="b-psen2"><circle class="n" cx="1051" cy="1070" r="13"/><text class="t" x="1067" y="1027" transform="rotate(90 1067 1027)">PSEN2</text></g>
<g id="b-cir"><circle class="n" cx="1081" cy="1070" r="13"/><text class="t" x="1097" y="1040" transform="rotate(90 1097 1040)">CIR</text></g>
<g id="b-rfng"><text class="t" x="993" y="1077" transform="rotate(90 993 1077)">RFNG</text><circle class="n" cx="976" cy="1113" r="13"/></g>
<g id="b-pcaf"><text class="t" x="1028" y="1075" transform="rotate(90 1028 1075)">PCAF</text><circle class="n" cx="1011" cy="1113" r="13"/></g>
<g id="b-aph1a"><text class="t" x="1097" y="1065" transform="rotate(90 1097 1065)">APH1A</text><circle class="n" cx="1086" cy="1114" r="13"/></g>
<g id="b-skip"><text class="t" x="993" y="1124" transform="rotate(90 993 1124)">SKIP</text><circle class="n" cx="976" cy="1158" r="13"/></g>
<g id="b-gcn5l2"><text class="t" x="1028" y="1106" transform="rotate(90 1028 1106)">GCN5L2</text><circle class="n" cx="1011" cy="1160" r="13"/></g>
<g id="b-ctbp1"><text class="t" x="1063" y="1113" transform="rotate(90 1063 1113)">CTBP1</text><circle class="n" cx="1047" cy="1158" r="13"/></g>
<g id="b-crebbp"><text class="t" x="1097" y="1108" transform="rotate(90 1097 1108)">CREBBP</text><circle class="n" cx="1086" cy="1158" r="13"/></g>
<g id="b-aph1b"><text class="t" x="993" y="1158" transform="rotate(90 993 1158)">APH1B</text><circle class="n" cx="976" cy="1203" r="13"/></g>
<g id="b-ncor2"><text class="t" x="1028" y="1158" transform="rotate(90 1028 1158)">NCOR2</text><circle class="n" cx="1011" cy="1203" r="13"/></g>
<g id="b-psen1"><text class="t" x="1097" y="1166" transform="rotate(90 1097 1166)">PSEN1</text><circle class="n" cx="1086" cy="1211" r="13"/></g>
<g id="b-ctbp2"><text class="t" x="1028" y="1204" transform="rotate(90 1028 1204)">CTBP2</text><circle class="n" cx="1011" cy="1247" r="13"/></g>
<g id="b-tnf"><text class="t" x="1068" y="1213" transform="rotate(90 1068 1213)">TNF</text><circle class="n" cx="1051" cy="1247" r="13"/></g>
<g id="b-maml1"><text class="t" x="1082" y="1238" transform="rotate(90 1082 1238)">MAML1</text><circle class="n b" cx="1066" cy="1285" r="13"/></g>
<g id="b-rbpsuhl"><circle class="n" cx="881" cy="1185" r="13"/><text class="t" x="895" y="1128" transform="rotate(90 895 1128)">RBPSUHL</text></g>
<g id="b-maml3"><circle class="n" cx="787" cy="1233" r="13"/><text class="t" x="803" y="1183" transform="rotate(90 803 1183)">MAML3</text></g>
<g id="b-hdac1"><circle class="n" cx="823" cy="1293" r="13"/><circle class="d" cx="823" cy="1293" r="1.8"/><text class="t" x="838" y="1246" transform="rotate(90 838 1246)">HDAC1</text></g>
<g id="b-rbpj"><circle class="n" cx="917" cy="1316" r="13"/><text class="t" x="932" y="1269" transform="rotate(90 932 1269)">RBP-J</text></g>
<g id="b-ptcra"><circle class="n" cx="898" cy="1426" r="13"/><text class="t" x="913" y="1381" transform="rotate(90 913 1381)">PTCRA</text></g>
<g id="b-hes"><circle class="n" cx="845" cy="1426" r="13"/><circle class="n" cx="853" cy="1424" r="13"/><text class="t" x="870" y="1388" transform="rotate(90 870 1388)">HES1</text><text class="t" x="865" y="1388" transform="rotate(90 865 1388)">HES5</text></g>
</svg>
